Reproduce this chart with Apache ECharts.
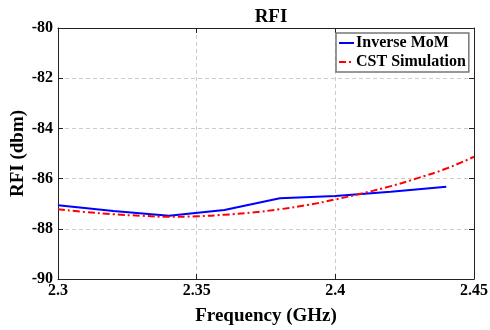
<!DOCTYPE html>
<html><head><meta charset="utf-8">
<script src="https://cdn.jsdelivr.net/npm/echarts@6/dist/echarts.min.js"></script>
<style>html,body{margin:0;padding:0;background:#fff}#c{width:490px;height:330px}</style>
</head><body><div id="c"></div>
<script>
const mom_x = [2.30, 2.32, 2.34, 2.36, 2.38, 2.40, 2.42, 2.44];
const mom_y = [-87.06, -87.29, -87.48, -87.25, -86.78, -86.69, -86.52, -86.32];
const cst_x = [2.30, 2.31, 2.32, 2.33, 2.34, 2.35, 2.36, 2.37, 2.38, 2.39, 2.40, 2.41, 2.42, 2.43, 2.44, 2.45];
const cst_y = [-87.22, -87.33, -87.42, -87.48, -87.52, -87.50, -87.44, -87.35, -87.22, -87.05, -86.83, -86.58, -86.30, -85.97, -85.60, -85.13];
const xTicks = [2.3, 2.35, 2.4, 2.45];
const yTicks = [-90, -88, -86, -84, -82, -80];

const F = 'Liberation Serif';
const chart = echarts.init(document.getElementById('c'));
const zip = (a, b) => a.map((v, i) => [v, b[i]]);
const gridLine = {show: true, lineStyle: {color: '#cccccc', type: [4, 3], width: 1}};
chart.setOption({
  animation: false,
  title: {text: 'RFI', left: 266, top: 3, textAlign: 'center',
    textStyle: {fontFamily: F, fontWeight: 'bold', fontSize: 19, color: '#000'}},
  legend: {
    orient: 'vertical', left: 336, top: 33, itemWidth: 15, itemHeight: 10, itemGap: 3,
    padding: [2, 3, 2, 2], borderColor: '#777', borderWidth: 1.5, backgroundColor: '#fff',
    itemStyle: {color: 'transparent', borderWidth: 0},
    textStyle: {fontFamily: F, fontWeight: 'bold', fontSize: 16, color: '#000', padding: [0, 0, 0, -3]}
  },
  grid: {left: 58, right: 16, top: 28, bottom: 51, outerBoundsMode: 'none', containLabel: false},
  xAxis: [{
    type: 'value', min: 2.3, max: 2.45, interval: 0.05,
    name: 'Frequency (GHz)', nameLocation: 'middle', nameGap: 28, nameMoveOverlap: false,
    nameTextStyle: {fontFamily: F, fontWeight: 'bold', fontSize: 19, color: '#000'},
    axisLine: {lineStyle: {color: '#222', width: 1}},
    axisTick: {inside: true, length: 5, lineStyle: {color: '#222'}},
    axisLabel: {fontFamily: F, fontWeight: 'bold', fontSize: 16, color: '#000', margin: 4,
      formatter: v => xTicks.includes(+v.toFixed(2)) ? String(+v.toFixed(2)) : ''},
    splitLine: gridLine
  }, {
    type: 'value', position: 'top', min: 2.3, max: 2.45, interval: 0.05,
    axisLine: {lineStyle: {color: '#222', width: 1}},
    axisTick: {inside: true, length: 5, lineStyle: {color: '#222'}},
    axisLabel: {show: false}, splitLine: {show: false}
  }],
  yAxis: [{
    type: 'value', min: -90, max: -80, interval: 2,
    name: 'RFI (dbm)', nameLocation: 'middle', nameGap: 30, nameMoveOverlap: false,
    nameTextStyle: {fontFamily: F, fontWeight: 'bold', fontSize: 19, color: '#000'},
    axisLine: {show: true, lineStyle: {color: '#222', width: 1}},
    axisTick: {show: true, inside: true, length: 5, lineStyle: {color: '#222'}},
    axisLabel: {fontFamily: F, fontWeight: 'bold', fontSize: 16, color: '#000', margin: 5,
      formatter: v => yTicks.includes(v) ? String(v) : ''},
    splitLine: gridLine
  }, {
    type: 'value', position: 'right', min: -90, max: -80, interval: 2,
    axisLine: {show: true, lineStyle: {color: '#222', width: 1}},
    axisTick: {show: true, inside: true, length: 5, lineStyle: {color: '#222'}},
    axisLabel: {show: false}, splitLine: {show: false}
  }],
  series: [{
    name: 'Inverse MoM', type: 'line', data: zip(mom_x, mom_y), symbol: 'none',
    lineStyle: {color: '#0000ff', width: 2}, itemStyle: {color: '#0000ff'}
  }, {
    name: 'CST Simulation', type: 'line', data: zip(cst_x, cst_y), symbol: 'none', smooth: true,
    lineStyle: {color: '#ff0000', width: 2, type: [7, 3, 2, 3]}, itemStyle: {color: '#ff0000'}
  }]
});
</script></body></html>
